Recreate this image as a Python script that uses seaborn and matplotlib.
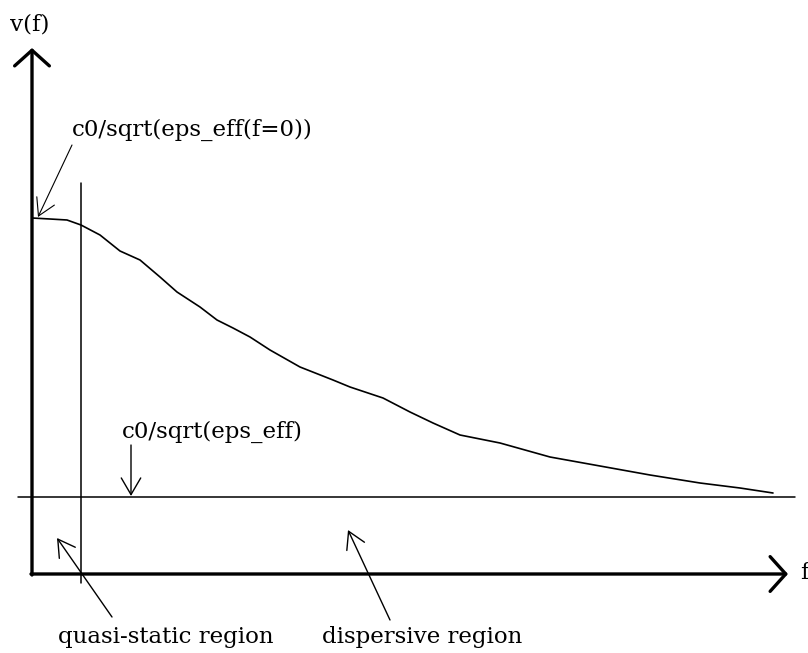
import matplotlib
matplotlib.use("Agg")
import matplotlib.pyplot as plt
import seaborn as sns
import pandas as pd

# ---- data (f, v) ----
f_vals = [0.0, 1.8, 3.5, 4.9, 6.8, 8.8, 10.8, 12.8, 14.5, 16.8, 18.5, 20.1, 21.8,
          23.8, 26.8, 30.1, 31.8, 35.1, 37.8, 40.1, 42.8, 46.8, 51.8, 56.8, 61.8,
          66.8, 70.8, 74.1]
v_vals = [35.6, 35.5, 35.4, 34.9, 33.9, 32.3, 31.4, 29.7, 28.2, 26.7, 25.4, 24.6,
          23.7, 22.4, 20.7, 19.4, 18.7, 17.6, 16.2, 15.1, 13.9, 13.1, 11.7, 10.8,
          9.9, 9.1, 8.6, 8.1]
v_inf = 7.7            # c0/sqrt(eps_eff)
f_quasi = 4.9          # boundary of quasi-static region
labels = {
    "y": "v(f)",
    "x": "f",
    "v0": "c0/sqrt(eps_eff(f=0))",
    "vinf": "c0/sqrt(eps_eff)",
    "quasi": "quasi-static region",
    "disp": "dispersive region",
}

sns.set_style("white")
plt.rcParams["font.family"] = ["DejaVu Serif"]
plt.rcParams["text.color"] = "black"

fig = plt.figure(figsize=(8.08, 6.53), dpi=100)
ax = fig.add_axes([0, 0, 1, 1])
ax.set_xlim(-3.2, 77.6)
ax.set_ylim(-7.9, 57.4)
ax.axis("off")

df = pd.DataFrame({"f": f_vals, "v": v_vals})
sns.lineplot(data=df, x="f", y="v", ax=ax, color="black", lw=1.2, sort=False)

# asymptote and quasi-static boundary
ax.plot([-1.4, 76.3], [v_inf, v_inf], color="black", lw=1.1)
ax.plot([f_quasi, f_quasi], [-0.9, 39.1], color="black", lw=1.1)

# axes with arrows
axis_arrow = dict(arrowstyle="->,head_length=0.45,head_width=0.5",
                  lw=2.4, color="black", mutation_scale=25, shrinkA=0, shrinkB=0)
ax.annotate("", xy=(0, 52.6), xytext=(0, -0.1), arrowprops=axis_arrow)
ax.annotate("", xy=(75.6, 0), xytext=(-0.1, 0), arrowprops=axis_arrow)

fs = 16.5
ax.text(-0.2, 54.9, labels["y"], ha="center", va="center", fontsize=fs)
ax.text(76.8, 0.1, labels["x"], ha="left", va="center", fontsize=fs)

thin = dict(arrowstyle="->,head_length=0.6,head_width=0.35", lw=1.0,
            color="black", mutation_scale=20, shrinkA=0, shrinkB=0)
thin_light = dict(thin, lw=0.8)

ax.text(16.05, 44.4, labels["v0"], ha="center", va="center", fontsize=fs)
ax.annotate("", xy=(0.6, 35.7), xytext=(4.0, 42.9), arrowprops=thin_light)

ax.text(18.0, 14.2, labels["vinf"], ha="center", va="center", fontsize=fs)
ax.annotate("", xy=(9.9, 7.8), xytext=(9.9, 12.9), arrowprops=thin)

ax.text(13.35, -6.3, labels["quasi"], ha="center", va="center", fontsize=fs)
ax.annotate("", xy=(2.5, 3.6), xytext=(8.0, -4.3), arrowprops=thin)
ax.text(39.0, -6.3, labels["disp"], ha="center", va="center", fontsize=fs)
ax.annotate("", xy=(31.6, 4.4), xytext=(35.8, -4.6), arrowprops=thin)

fig.savefig("out.png", dpi=100, facecolor="white")
